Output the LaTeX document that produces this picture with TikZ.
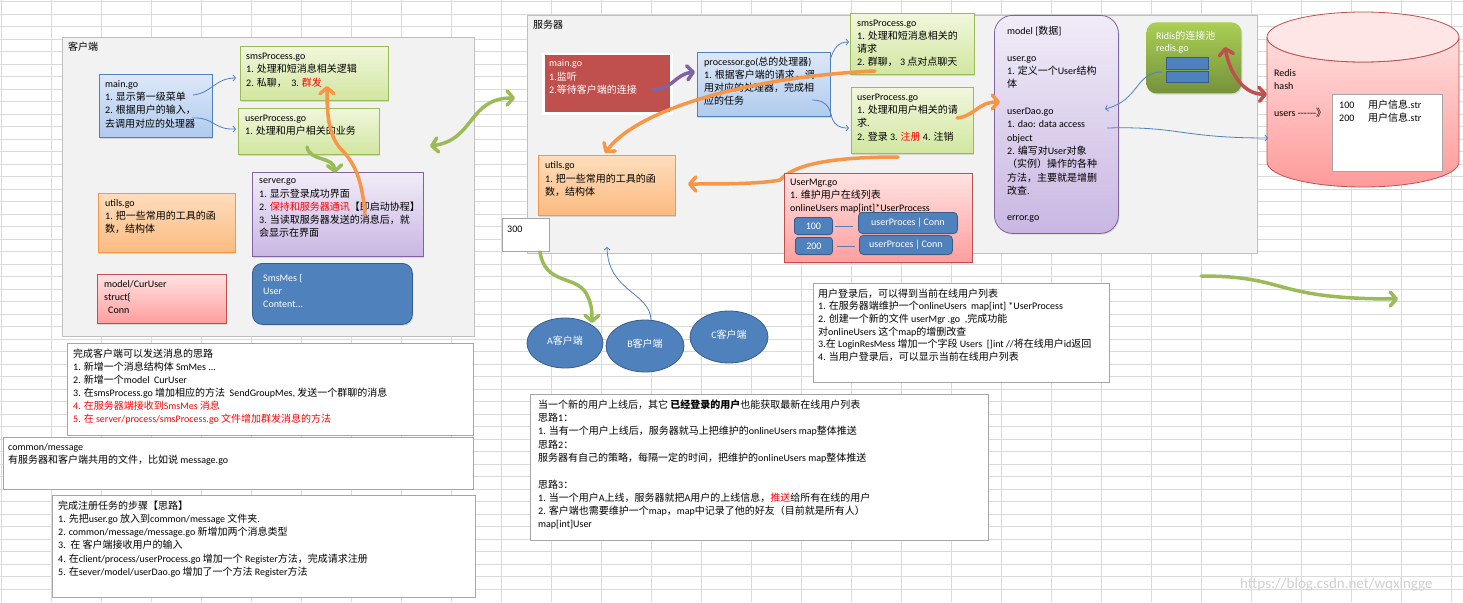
\documentclass[tikz,border=0pt]{standalone}
\usepackage{fontspec}
\setmainfont{Carlito}
\newfontfamily\cjk{Noto Sans CJK SC}
\usetikzlibrary{arrows.meta,shapes.geometric,shadows}
% automatic switch to the CJK font for CJK characters
\XeTeXinterchartokenstate=1
\newXeTeXintercharclass\CJKcls
\newcount\cjkc
\cjkc="3000 \loop \XeTeXcharclass\cjkc=\CJKcls \advance\cjkc by 1 \ifnum\cjkc<"3040 \repeat
\cjkc="4E00 \loop \XeTeXcharclass\cjkc=\CJKcls \advance\cjkc by 1 \ifnum\cjkc<"A000 \repeat
\cjkc="FF00 \loop \XeTeXcharclass\cjkc=\CJKcls \advance\cjkc by 1 \ifnum\cjkc<"FFF0 \repeat
\XeTeXinterchartoks 0 \CJKcls = {\cjk}
\XeTeXinterchartoks 4095 \CJKcls = {\cjk}
\XeTeXinterchartoks \CJKcls 0 = {\rmfamily}
\XeTeXinterchartoks \CJKcls 4095 = {\rmfamily}
\definecolor{gridc}{HTML}{DADADA}
\definecolor{areaf}{HTML}{F2F2F2}
\definecolor{aread}{HTML}{BFBFBF}
\definecolor{btop}{HTML}{DDE8F8}
\definecolor{bbot}{HTML}{B0CBEE}
\definecolor{bdr}{HTML}{4F81BD}
\definecolor{gtop}{HTML}{F0F7DC}
\definecolor{gbot}{HTML}{D2E6A0}
\definecolor{gdr}{HTML}{9BBB59}
\definecolor{ptop}{HTML}{F1ECF8}
\definecolor{pbot}{HTML}{C9B7E2}
\definecolor{pdr}{HTML}{8064A2}
\definecolor{otop}{HTML}{FDDDBD}
\definecolor{obot}{HTML}{FBBB80}
\definecolor{odr}{HTML}{F79646}
\definecolor{rtop}{HTML}{FFE2E2}
\definecolor{rbot}{HTML}{FF9E9E}
\definecolor{rdr}{HTML}{C0504D}
\definecolor{dfill}{HTML}{4F81BD}
\definecolor{ddr}{HTML}{385D8A}
\definecolor{wdr}{HTML}{A6A6A6}
\definecolor{pooltop}{HTML}{A9CF54}
\definecolor{poolbot}{HTML}{76923C}
\definecolor{cyltop}{HTML}{FFDCDC}
\definecolor{cylbot}{HTML}{FF9A9A}
\definecolor{cyltopf}{HTML}{FFE6E6}
\definecolor{myred}{HTML}{FF0000}
\definecolor{wmark}{HTML}{D0D0D0}
\newcommand\redt[1]{\textcolor{myred}{#1}}
\newcommand\fl{\rule{0pt}{9.5pt}}
% box: style, name, x, y, width, height
\newcommand\bxat[6]{\node[#1, minimum width=#5pt, minimum height=#6pt] (#2) at (#3,#4) {};}
\tikzset{
  gl/.style={draw=gridc, line width=0.6pt},
  area/.style={anchor=north west, inner sep=0, draw=aread, fill=areaf, line width=1pt},
  bx/.style={anchor=north west, inner sep=0, line width=0.8pt,
    drop shadow={shadow xshift=1pt, shadow yshift=-1.2pt, opacity=.25}},
  bluebox/.style={bx, draw=bdr, top color=btop, bottom color=bbot},
  greenbox/.style={bx, draw=gdr, top color=gtop, bottom color=gbot},
  purplebox/.style={bx, draw=pdr, top color=ptop, bottom color=pbot},
  orangebox/.style={bx, draw=odr, top color=otop, bottom color=obot},
  redbox/.style={bx, draw=rdr, top color=rtop, bottom color=rbot},
  dbox/.style={bx, draw=ddr, fill=dfill, text=white},
  wbox/.style={anchor=north west, inner sep=0, draw=wdr, fill=white, line width=0.8pt},
  txt/.style={anchor=north west, inner sep=0, align=left, font=\fontsize{10}{13.3}\selectfont},
  tarr/.style={draw=bdr, line width=0.8pt, -{Straight Barb[length=2.5pt,width=6pt]}},
  karr/.style={line width=3.5pt, line cap=round, -{Straight Barb[round,length=6pt,width=14pt]}},
  karrb/.style={line width=3.5pt, line cap=round, {Straight Barb[round,length=6pt,width=14pt]}-{Straight Barb[round,length=6pt,width=14pt]}},
}
\begin{document}
\begin{tikzpicture}[x=1pt,y=-1pt, every node/.style={font=\fontsize{10}{13.3}\selectfont}]
\useasboundingbox (0,0) rectangle (1463,602);
\fill[white] (0,0) rectangle (1463,602);
\foreach \i in {0,...,29} \draw[gl] ({1.7+50*\i},0) -- ({1.7+50*\i},602);
\foreach \j in {0,...,47} \draw[gl] (0,{1.5+12.5*\j}) -- (1463,{1.5+12.5*\j});

% ---------------- client ----------------
\bxat{area}{carea}{62}{37}{412}{299}
\node[txt] (clab) at (68,41) {\fl 客户端};
\bxat{bluebox}{cmain}{99}{74}{113}{63}
\node[txt] (cmaint) at (105,77.5) {\fl main.go\\1. 显示第一级菜单\\2. 根据用户的输入，\\去调用对应的处理器};
\bxat{greenbox}{csms}{240}{46}{148}{54}
\node[txt, font=\fontsize{10}{13.5}\selectfont] (csmst) at (246,49.5) {\fl smsProcess.go\\1. 处理和短消息相关逻辑\\2. 私聊，\ \ 3. \redt{群发}};
\bxat{greenbox}{cuser}{238}{108}{141}{46}
\node[txt, font=\fontsize{10}{13}\selectfont] (cusert) at (245,111.5) {\fl userProcess.go\\1. 处理和用户相关的业务};
\bxat{purplebox}{cserver}{252}{172}{171}{84}
\node[txt] (cservert) at (259,174) {\fl server.go\\1. 显示登录成功界面\\2. \redt{保持和服务器通讯}【即启动协程】\\3. 当读取服务器发送的消息后，就\\会显示在界面};
\bxat{dbox, rounded corners=10pt}{csmsmes}{252}{263}{160}{61}
\node[txt, text=white] (csmsmest) at (263,271.5) {\fl SmsMes \{\\User\\Content...};
\bxat{orangebox}{cutils}{98}{193}{137}{59}
\node[txt, font=\fontsize{10}{13}\selectfont] (cutilst) at (105,197) {\fl utils.go\\1. 把一些常用的工具的函\\数，结构体};
\bxat{redbox}{ccur}{97}{274}{129}{49}
\node[txt, font=\fontsize{10}{13}\selectfont] (ccurt) at (104,277.5) {\fl model/CurUser\\struct\{\\\hspace{4pt}Conn};

% ---------------- server ----------------
\bxat{area}{sarea}{527}{15}{730}{238}
\node[txt] (slab) at (533,18.5) {\fl 服务器};
\bxat{bx, fill=rdr, draw=white, line width=2.5pt, drop shadow={shadow xshift=1.5pt, shadow yshift=-1.5pt, opacity=.4}}{smain}{542}{53}{128}{59}
\node[txt, text=white, font=\fontsize{10}{13.5}\selectfont] (smaint) at (549,57) {\fl main.go\\1.监听\\2.等待客户端的连接};
\bxat{bluebox}{sproc}{697}{52}{133}{64}
\node[txt, font=\fontsize{10}{12.8}\selectfont] (sproct) at (704,56) {\fl processor.go(总的处理器)\\1. 根据客户端的请求，调\\用对应的处理器，完成相\\应的任务};
\bxat{greenbox}{ssms}{850}{13}{124}{61}
\node[txt, font=\fontsize{10}{13.1}\selectfont] (ssmst) at (857,17) {\fl smsProcess.go\\1. 处理和短消息相关的\\请求\\2. 群聊，\ 3 点对点聊天};
\bxat{greenbox}{suser}{851}{87}{122}{66}
\node[txt, font=\fontsize{10}{13.1}\selectfont] (susert) at (857,91) {\fl userProcess.go\\1. 处理和用户相关的请\\求.\\2. 登录 3. \redt{注册} 4. 注销};
\bxat{orangebox}{sutils}{538}{155}{137}{60}
\node[txt] (sutilst) at (545,159) {\fl utils.go\\1. 把一些常用的工具的函\\数，结构体};

% orange connector passing under UserMgr.go
\draw[karr, draw=odr] ([shift={(47,70)}]suser.north west) .. controls (810,157) and (790,170) .. (780,180) .. controls (760,184) and (720,184) .. ([shift={(150,29)}]sutils.north west);

\bxat{redbox}{smgr}{784}{173}{188}{89}
\node[txt] (smgrt) at (790,175.5) {\fl UserMgr.go\\1. 维护用户在线列表\\onlineUsers map[int]*UserProcess};
\bxat{dbox, rounded corners=3pt}{k100}{794}{217}{38}{17}
\node[text=white, inner sep=0] (k100t) at (k100.center) {100};
\bxat{dbox, rounded corners=3pt}{k200}{795}{237}{37}{17}
\node[text=white, inner sep=0] (k200t) at (k200.center) {200};
\bxat{dbox, rounded corners=4pt}{uc1}{858}{212}{99}{21}
\node[text=white, inner sep=0] (uc1t) at (uc1.center) {userProces\,|\,Conn};
\bxat{dbox, rounded corners=4pt}{uc2}{859}{235}{93}{19}
\node[text=white, inner sep=0] (uc2t) at (uc2.center) {userProces\,|\,Conn};
\draw[draw=bdr, line width=0.8pt, shorten <=2pt, shorten >=5pt] (k100.east) -- (k100.east -| uc1.west);
\draw[draw=bdr, line width=0.8pt, shorten <=4pt, shorten >=4pt] (k200.east) -- (k200.east -| uc2.west);

\bxat{purplebox, rounded corners=18pt}{model}{994}{15}{124}{218}
\node[txt] (modelt) at (1007,25) {\fl model [数据]\\[13.3pt]user.go\\1. 定义一个User结构\\体\\[13.3pt]userDao.go\\1. dao: data access\\object\\2. 编写对User对象\\（实例）操作的各种\\方法，主要就是增删\\改查.\\[13.3pt]error.go};

\bxat{bx, top color=pooltop, bottom color=poolbot, draw=none, rounded corners=10pt}{pool}{1146}{22}{95}{71}
\node[txt, text=white, font=\fontsize{10}{12.7}\selectfont] (poolt) at (1156,29.5) {\fl Ridis的连接池\\redis.go};
\bxat{anchor=north west, inner sep=0, fill=dfill, draw=ddr, line width=1.3pt}{pr1}{1166}{57}{42}{11.5}
\bxat{anchor=north west, inner sep=0, fill=dfill, draw=ddr, line width=1.3pt}{pr2}{1166}{71}{42}{11}

% Redis cylinder
\path[draw=rdr, line width=0.8pt, top color=cyltop, bottom color=cylbot]
  (1267,37) -- (1267,162) arc[start angle=180, end angle=360, x radius=96pt, y radius=25pt]
  -- (1459,37) arc[start angle=0, end angle=-180, x radius=96pt, y radius=25pt] -- cycle;
\draw[draw=rdr, line width=0.8pt, fill=cyltopf] (1363,37) ellipse [x radius=96pt, y radius=25pt];
\node[inner sep=0, minimum width=192pt, minimum height=175pt, anchor=north west] (redis) at (1267,12) {};
\node[txt] (redist) at (1274,66.5) {\fl Redis\\hash\\[13.3pt]users {-}{-}{-}{-}{-}{-}》};
\bxat{wbox}{rbox}{1332}{94}{110}{77}
\node[txt] (rboxt) at (1339,98.5) {\fl \makebox[29pt][l]{100}用户信息.str\\\makebox[29pt][l]{200}用户信息.str};

% ---------------- clients A B C ----------------
\bxat{wbox}{b300}{502}{218}{47}{33}
\node[txt] (b300t) at (507,222.5) {\fl 300};
\node[ellipse, draw=ddr, fill=dfill, line width=0.8pt, minimum width=76pt, minimum height=50pt, inner sep=0, text=white] (ca) at (565,343) {\raisebox{5pt}{A客户端}};
\node[ellipse, draw=ddr, fill=dfill, line width=0.8pt, minimum width=78pt, minimum height=52pt, inner sep=0, text=white] (cb) at (645,346) {\raisebox{5pt}{B客户端}};
\node[ellipse, draw=ddr, fill=dfill, line width=0.8pt, minimum width=78pt, minimum height=52pt, inner sep=0, text=white] (cc) at (729,337) {\raisebox{5pt}{C客户端}};

% ---------------- text boxes ----------------
\bxat{wbox}{tone}{67}{343}{406}{92}
\node[txt, font=\fontsize{10}{13.1}\selectfont] (tonet) at (73,347.5) {\fl 完成客户端可以发送消息的思路\\1. 新增一个消息结构体 SmMes ...\\2. 新增一个model\ \ CurUser\\3. 在smsProcess.go 增加相应的方法\ \ SendGroupMes, 发送一个群聊的消息\\\redt{4. 在服务器端接收到SmsMes 消息}\\\redt{5. 在 server/process/smsProcess.go 文件增加群发消息的方法}};
\bxat{wbox}{ttwo}{3}{437}{470}{52}
\node[txt, font=\fontsize{10}{12.7}\selectfont] (ttwot) at (8,441) {\fl common/message\\有服务器和客户端共用的文件，比如说 message.go};
\bxat{wbox}{tthree}{52}{495}{423}{102}
\node[txt, font=\fontsize{10}{13.2}\selectfont] (tthreet) at (58,499.5) {\fl 完成注册任务的步骤【思路】\\1. 先把user.go 放入到common/message 文件夹.\\2. common/message/message.go 新增加两个消息类型\\3.\ \ 在 客户端接收用户的输入\\4. 在client/process/userProcess.go 增加一个 Register方法，完成请求注册\\5. 在sever/model/userDao.go 增加了一个方法 Register方法};
\bxat{wbox}{tfour}{530}{394}{458}{146}
\node[txt] (tfourt) at (538,398.5) {\fl 当一个新的用户上线后，其它 \textbf{已经登录的用户}也能获取最新在线用户列表\\思路1：\\1. 当有一个用户上线后，服务器就马上把维护的onlineUsers map整体推送\\思路2：\\服务器有自己的策略，每隔一定的时间，把维护的onlineUsers map整体推送\\[13.3pt]思路3：\\1. 当一个用户A上线，服务器就把A用户的上线信息，\redt{推送}给所有在线的用户\\2. 客户端也需要维护一个map，map中记录了他的好友（目前就是所有人）\\map[int]User};
\bxat{wbox}{tfive}{813}{283}{296}{99}
\node[txt, font=\fontsize{10}{12.6}\selectfont] (tfivet) at (818,287.5) {\fl 用户登录后，可以得到当前在线用户列表\\1. 在服务器端维护一个onlineUsers\ \ map[int] *UserProcess\\2. 创建一个新的文件 userMgr .go\ \ ,完成功能\\对onlineUsers 这个map的增删改查\\3.在 LoginResMess 增加一个字段 Users\ \ []int //将在线用户id返回\\4. 当用户登录后，可以显示当前在线用户列表};

\node[anchor=base west, inner sep=0, text=wmark, font=\fontsize{15}{15}\selectfont] (wm) at (1240,588) {https://blog.csdn.net/wqxingge};

% ---------------- connectors ----------------
\draw[tarr] ([shift={(94,21)}]cmain.north west) .. controls (212,93) and (215,78) .. ([shift={(-4,32)}]csms.north west);
\draw[tarr] ([shift={(93,44)}]cmain.north west) .. controls (215,117) and (213,130) .. ([shift={(-2,21)}]cuser.north west);
\draw[karr, draw=gdr] ([shift={(69,39)}]cuser.north west) .. controls (310,162) and (334,156) .. ([shift={(83,1)}]cserver.north west);
\draw[karr, draw=odr] ([shift={(113,43)}]cserver.north west) .. controls (362,175) and (352,160) .. (340,148) .. controls (328,134) and (327,112) .. ([shift={(87,40)}]csms.north west);
\draw[karrb, draw=gdr] ([shift={(368,109)}]carea.north west) .. controls (475,140) and (468,98) .. ([shift={(-12,83)}]sarea.north west);
\draw[karr, draw=pdr] ([shift={(111,36)}]smain.north west) .. controls (670,92) and (675,74) .. ([shift={(-2,20)}]sproc.north west);
\draw[tarr] ([shift={(133,8)}]sproc.north west) .. controls (834,48) and (838,42) .. ([shift={(-1,29)}]ssms.north west);
\draw[tarr] ([shift={(115,48)}]sproc.north west) .. controls (828,100) and (830,110) .. (832,118) .. controls (835,126) and (840,128) .. ([shift={(-2,41)}]suser.north west);
\draw[karr, draw=odr] ([shift={(25,58)}]ssms.north west) .. controls (760,76) and (640,106) .. ([shift={(67,-2)}]sutils.north west);
\draw[karr, draw=odr] ([shift={(106,31)}]suser.north west) .. controls (975,116) and (978,102) .. ([shift={(6,87)}]model.north west);
\draw[tarr] ([shift={(16,50)}]pool.north west) .. controls (1135,72) and (1140,100) .. ([shift={(111,94)}]model.north west);
\draw[tarr] ([shift={(113,113)}]model.north west) .. controls (1180,126) and (1180,138) .. ([shift={(1,126)}]redis.north west);
\draw[karrb, draw=rdr] ([shift={(79,25)}]pool.north west) .. controls (1230,75) and (1245,95) .. ([shift={(0,82)}]redis.north west);
\draw[karr, draw=gdr] ([shift={(38,34)}]b300.north west) .. controls (545,285) and (575,275) .. (586,293) .. controls (592,304) and (592,312) .. ([shift={(27,-20)}]ca.center);
\draw[tarr] ([shift={(6,-26)}]cb.center) .. controls (650,292) and (608,292) .. ([shift={(80,232)}]sarea.north west);
\coordinate (gone) at (1201,276);
\coordinate (gtwo) at (1398,299);
\draw[karr, draw=gdr] (gone) .. controls (1290,276) and (1270,299) .. (gtwo);
\end{tikzpicture}
\end{document}
